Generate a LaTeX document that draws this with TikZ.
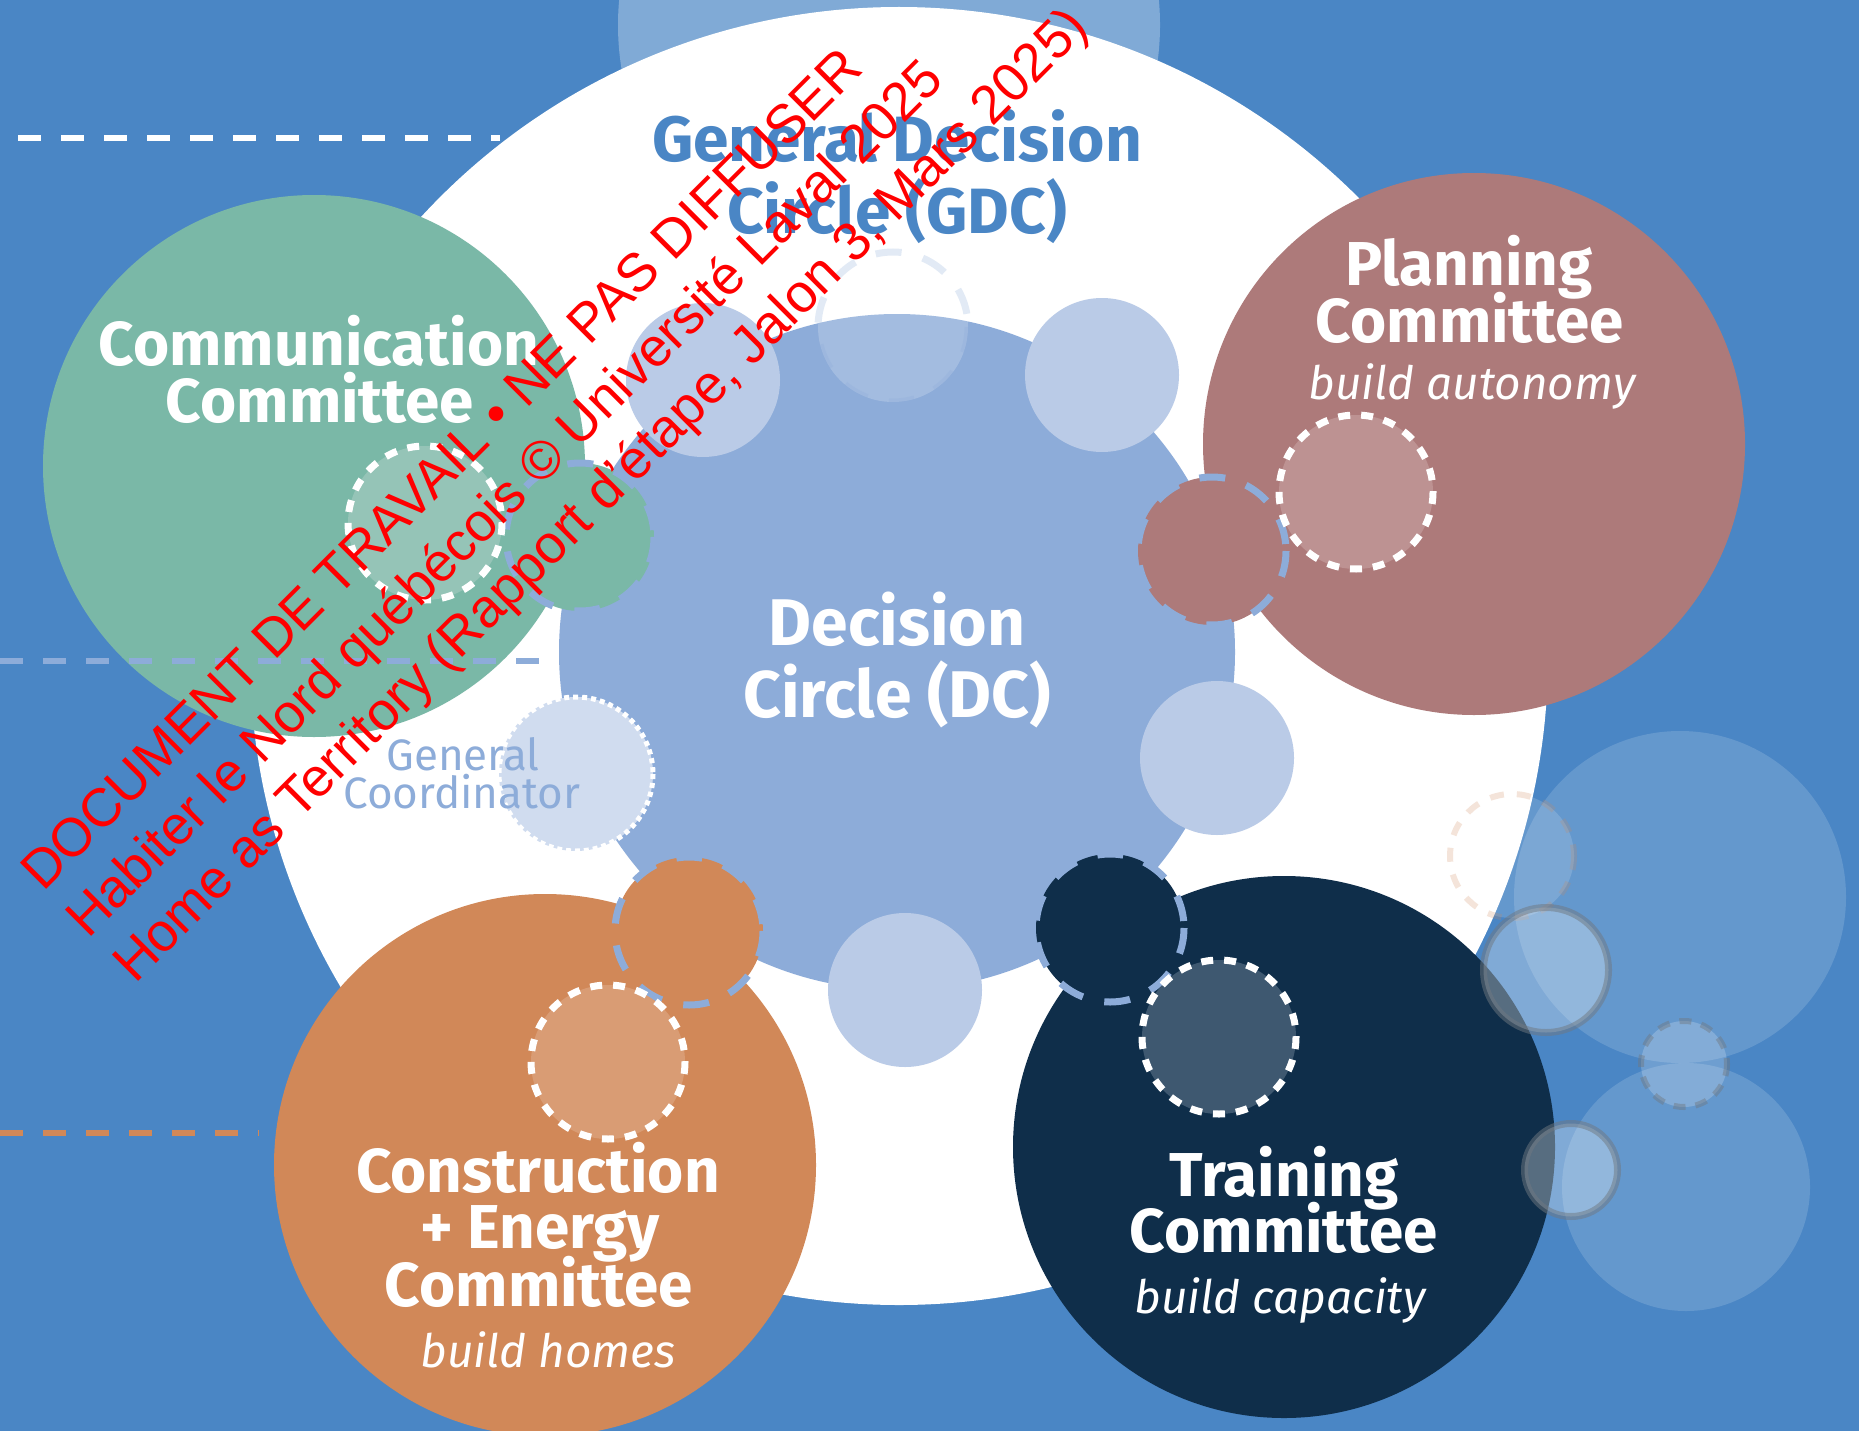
\documentclass[tikz,border=0pt]{standalone}
\usepackage{fontspec}
\setmainfont{Fira Sans}
\newfontfamily\wmfont{Liberation Sans}
\definecolor{bgblue}{HTML}{4A86C5}
\definecolor{topcirc}{HTML}{80AAD6}
\definecolor{dcblue}{HTML}{8DACD9}
\definecolor{smallblue}{HTML}{BACBE7}
\definecolor{gcblue}{HTML}{D0DCEF}
\definecolor{cgreen}{HTML}{7AB8A7}
\definecolor{cgreenin}{HTML}{95C4B7}
\definecolor{cmauve}{HTML}{AD7A7A}
\definecolor{cmauvein}{HTML}{BD9292}
\definecolor{corange}{HTML}{D18858}
\definecolor{corangein}{HTML}{D99C74}
\definecolor{cnavy}{HTML}{0F2E4A}
\definecolor{cnavyin}{HTML}{3E5870}
\definecolor{ringgray}{HTML}{707880}
\begin{document}
\begin{tikzpicture}[x=1pt,y=-1pt,
  title/.style={font=\fontsize{62}{62}\selectfont\bfseries, text=white, inner sep=0pt, anchor=base},
  dctitle/.style={font=\fontsize{66}{66}\selectfont\bfseries, text=white, inner sep=0pt, anchor=base},
  subtitle/.style={font=\fontsize{46}{46}\selectfont\itshape, text=white, inner sep=0pt, anchor=base},
  gdctext/.style={font=\fontsize{64}{64}\selectfont\bfseries, text=bgblue, inner sep=0pt, anchor=base},
  gctext/.style={font=\fontsize{44}{44}\selectfont, text=dcblue, inner sep=0pt, anchor=base},
  wm/.style={font=\wmfont\fontsize{54}{54}\selectfont, text=red, rotate=45, anchor=base west, inner sep=0pt},
  connector/.style={line width=7pt, draw=dcblue, dash pattern=on 26pt off 22pt},
  innerdash/.style={line width=7pt, draw=white, dash pattern=on 12pt off 11pt},
  sidedash/.style={line width=6pt, dash pattern=on 23pt off 20pt}
]
\useasboundingbox (0,0) rectangle (1859,1431);
\fill[bgblue] (0,0) rectangle (1859,1431);
% top light circle and GDC ring
\fill[topcirc] (889,25) circle (271);
\fill[white] (899,656) circle (649);
% Decision circle
\fill[dcblue] (897,652) circle (338);
% small circles around DC
\fill[smallblue] (703,380) circle (77);
\fill[smallblue] (1102,375) circle (77);
\fill[smallblue] (1217,758) circle (77);
\fill[smallblue] (905,990) circle (77);
% GDC dashed circle
\fill[white,opacity=0.2] (893,327) circle (75);
\draw[dcblue,opacity=0.25,line width=7pt,dash pattern=on 26pt off 22pt] (893,327) circle (75);
% General coordinator
\fill[gcblue] (576,774) circle (77);
\draw[white,line width=5pt,dash pattern=on 5pt off 4pt] (576,774) circle (77);
% committees
\fill[cgreen] (314,466) circle (271);
\fill[cmauve] (1474,444) circle (271);
\fill[corange] (545,1165) circle (271);
\fill[cnavy] (1284,1147) circle (271);
% connectors
\fill[cgreen] (580,537) circle (74);
\draw[connector] (580,537) circle (74);
\fill[cmauve] (1212,551) circle (74);
\draw[connector] (1212,551) circle (74);
\fill[corange] (689,931) circle (74);
\draw[connector] (689,931) circle (74);
\fill[cnavy] (1110,928) circle (74);
\draw[connector] (1110,928) circle (74);
% inner dashed circles
\fill[cgreenin] (425,523) circle (77);
\draw[innerdash] (425,523) circle (77);
\fill[cmauvein] (1356,492) circle (77);
\draw[innerdash] (1356,492) circle (77);
\fill[corangein] (608,1062) circle (77);
\draw[innerdash] (608,1062) circle (77);
\fill[cnavyin] (1219,1037) circle (77);
\draw[innerdash] (1219,1037) circle (77);
% left dashed lines
\draw[sidedash,white] (18,138) -- (500,138);
\draw[sidedash,dcblue] (0,661) -- (559,661);
\draw[sidedash,corange] (0,1133) -- (259,1133);
% right decorations
\fill[white,opacity=0.15] (1680,897) circle (166);
\fill[white,opacity=0.15] (1686,1187) circle (124);
\fill[white,opacity=0.15] (1512,856) circle (62);
\draw[corange,opacity=0.22,line width=6pt,dash pattern=on 14pt off 13pt] (1512,856) circle (62);
\fill[white,opacity=0.3] (1546,970) circle (62.5);
\draw[ringgray,opacity=0.5,line width=7pt] (1546,970) circle (62.5);
\fill[white,opacity=0.3] (1571,1170) circle (46.5);
\draw[ringgray,opacity=0.5,line width=7pt] (1571,1170) circle (46.5);
\fill[white,opacity=0.2] (1684,1064) circle (43);
\draw[ringgray,opacity=0.45,line width=6pt,dash pattern=on 12pt off 10pt] (1684,1064) circle (43);
% texts
\node[gdctext] (gdc1) at (897,162) {General Decision};
\node[gdctext] (gdc2) at (897,234) {Circle (GDC)};
\node[dctitle] (dc1) at (897,645) {Decision};
\node[dctitle] (dc2) at (897,717) {Circle (DC)};
\node[gctext] (gc1) at (463,770) {General};
\node[gctext] (gc2) at (462,808) {Coordinator};
\node[title] (com1) at (319,365) {Communication};
\node[title] (com2) at (320,422) {Committee};
\node[title] (pl1) at (1469,285) {Planning};
\node[title] (pl2) at (1470,342) {Committee};
\node[subtitle] (pl3) at (1472,399) {build autonomy};
\node[title] (co1) at (538,1192) {Construction};
\node[title] (co2) at (540,1248) {+ Energy};
\node[title] (co3) at (539,1306) {Committee};
\node[subtitle] (co4) at (548,1367) {build homes};
\node[title] (tr1) at (1284,1196) {Training};
\node[title] (tr2) at (1284,1252) {Committee};
\node[subtitle] (tr3) at (1280,1313) {build capacity};
% watermark
\node[wm] (wm1) at (43,893) {DOCUMENT DE TRAVAIL • NE PAS DIFFUSER};
\node[wm] (wm2) at (88,940) {Habiter le Nord québécois © Université Laval 2025};
\node[wm] (wm3) at (135,985) {Home as Territory (Rapport d’étape, Jalon 3, Mars 2025)};
\end{tikzpicture}
\end{document}
